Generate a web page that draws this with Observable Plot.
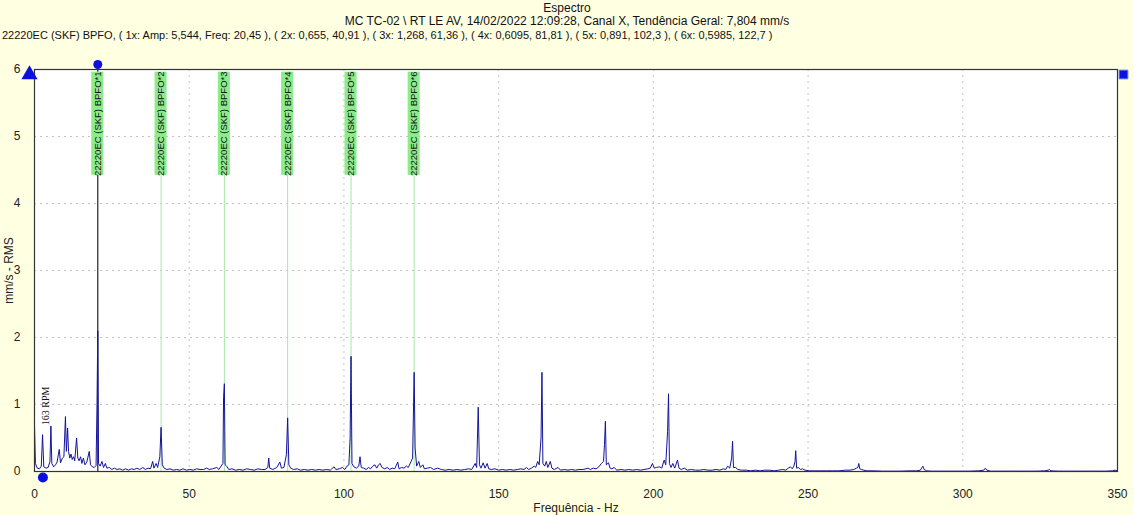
<!DOCTYPE html>
<html><head><meta charset="utf-8">
<script src="https://cdn.jsdelivr.net/npm/d3@7"></script>
<script src="https://cdn.jsdelivr.net/npm/@observablehq/plot@0.6"></script>
<style>
body{margin:0;background:#ffffe1;}
#wrap{position:relative;width:1134px;height:515px;background:#ffffe1;font-family:"Liberation Sans",Arial,sans-serif;color:#111;overflow:hidden}
.t{position:absolute;font-size:12px;line-height:14px;white-space:nowrap}
#chart{position:absolute;left:0;top:45px}
</style></head><body>
<div id="wrap">
<div class="t" style="left:0;width:1134px;text-align:center;top:1px">Espectro</div>
<div class="t" style="left:0;width:1134px;text-align:center;top:14px">MC TC-02 \ RT LE AV, 14/02/2022 12:09:28, Canal X, Tendência Geral: 7,804 mm/s</div>
<div class="t" style="left:2px;top:28px;font-size:11px">22220EC (SKF) BPFO, ( 1x: Amp: 5,544, Freq: 20,45 ), ( 2x: 0,655, 40,91 ), ( 3x: 1,268, 61,36 ), ( 4x: 0,6095, 81,81 ), ( 5x: 0,891, 102,3 ), ( 6x: 0,5985, 122,7 )</div>
<div id="chart"></div>
</div>
<script>
const xTicks = [0, 50, 100, 150, 200, 250, 300, 350];
const yTicks = [0, 1, 2, 3, 4, 5, 6];
const harmonicHz = [20.45, 40.91, 61.36, 81.81, 102.3, 122.7];
const harmonicLabels = ["22220EC (SKF) BPFO*1","22220EC (SKF) BPFO*2","22220EC (SKF) BPFO*3","22220EC (SKF) BPFO*4","22220EC (SKF) BPFO*5","22220EC (SKF) BPFO*6"];
const rpmHz = 2.72;
const rpmLabel = "163 RPM";
const spectrum = [
[0,0.68],[0.3,0.12],[0.9,0.05],[1.6,0.04],[2.2,0.08],[2.6,0.55],[3.0,0.07],[3.7,0.05],[4.4,0.06],[5.0,0.15],[5.3,0.68],[5.6,0.12],[6.2,0.07],[6.8,0.1],[7.3,0.14],[8.0,0.33],[8.4,0.13],[9.0,0.2],[9.5,0.22],[10.0,0.82],[10.3,0.3],[10.7,0.65],[11.0,0.3],[11.4,0.2],[11.8,0.26],[12.2,0.18],[12.6,0.22],[13.0,0.16],[13.6,0.5],[14.0,0.2],[14.4,0.16],[14.9,0.22],[15.3,0.12],[15.8,0.2],[16.3,0.1],[16.9,0.14],[17.7,0.3],[18.1,0.1],[18.7,0.07],[19.3,0.06],[19.9,0.09],[20.2,1.0],[20.45,2.1],[20.7,0.12],[21.2,0.08],[21.8,0.15],[22.3,0.06],[22.9,0.12],[23.4,0.05],[24.2,0.06],[25.0,0.03],[25.8,0.05],[26.7,0.03],[27.6,0.04],[28.5,0.02],[29.4,0.04],[30.4,0.02],[31.3,0.04],[32.2,0.03],[33.1,0.05],[34.0,0.03],[35.0,0.06],[35.8,0.03],[36.7,0.05],[37.5,0.04],[38.2,0.15],[38.6,0.05],[39.3,0.12],[39.8,0.06],[40.5,0.22],[40.91,0.66],[41.3,0.1],[41.9,0.05],[42.8,0.03],[43.8,0.04],[44.9,0.02],[45.9,0.03],[47.0,0.02],[48.0,0.04],[49.1,0.02],[50.2,0.03],[51.3,0.02],[52.4,0.04],[53.5,0.03],[54.6,0.03],[55.6,0.05],[56.5,0.03],[57.5,0.04],[58.9,0.06],[59.6,0.03],[60.3,0.08],[60.9,0.12],[61.1,1.1],[61.36,1.31],[61.6,0.1],[62.1,0.08],[62.8,0.03],[63.8,0.04],[65.0,0.02],[66.2,0.03],[67.4,0.02],[68.6,0.04],[69.8,0.03],[71.0,0.02],[72.2,0.04],[73.3,0.03],[74.5,0.03],[75.4,0.06],[75.7,0.2],[76.0,0.05],[77.0,0.03],[78.3,0.06],[79.3,0.14],[79.8,0.05],[80.6,0.06],[81.4,0.25],[81.81,0.8],[82.2,0.1],[82.8,0.05],[83.7,0.03],[84.9,0.04],[86.0,0.02],[87.2,0.03],[88.4,0.02],[89.6,0.03],[90.8,0.02],[92.0,0.03],[93.2,0.02],[94.4,0.03],[95.6,0.02],[96.8,0.07],[97.4,0.03],[98.5,0.04],[99.5,0.06],[100.3,0.03],[101.0,0.08],[101.6,0.1],[102.0,0.5],[102.3,1.72],[102.6,0.12],[103.2,0.07],[104.0,0.05],[104.8,0.08],[105.2,0.22],[105.6,0.06],[106.4,0.05],[107.2,0.03],[108.0,0.06],[108.6,0.04],[109.3,0.08],[110.0,0.1],[110.6,0.05],[111.2,0.1],[111.7,0.12],[112.3,0.06],[113.2,0.04],[114.0,0.06],[114.8,0.03],[115.6,0.05],[116.4,0.04],[117.4,0.14],[117.8,0.04],[118.6,0.06],[119.4,0.05],[120.2,0.08],[120.8,0.06],[121.7,0.15],[122.2,0.2],[122.7,1.48],[123.0,0.35],[123.5,0.08],[124.2,0.15],[124.7,0.06],[125.5,0.1],[126.0,0.04],[127.0,0.05],[128.0,0.06],[129.0,0.03],[130.3,0.05],[131.5,0.03],[132.7,0.02],[134.0,0.03],[135.3,0.02],[136.5,0.03],[137.8,0.02],[139.0,0.03],[140.3,0.04],[141.3,0.03],[142.4,0.12],[142.9,0.06],[143.4,0.96],[143.8,0.1],[144.3,0.05],[145.0,0.13],[145.6,0.05],[146.3,0.12],[146.8,0.04],[147.6,0.03],[148.8,0.04],[150.0,0.02],[151.2,0.03],[152.4,0.02],[153.6,0.03],[154.8,0.02],[156.0,0.03],[157.2,0.04],[158.2,0.03],[159.0,0.06],[159.7,0.03],[160.6,0.05],[161.5,0.08],[162.0,0.06],[162.6,0.15],[163.1,0.1],[163.7,0.5],[164.0,1.48],[164.3,0.12],[164.9,0.08],[165.4,0.15],[165.9,0.06],[166.7,0.15],[167.2,0.05],[168.0,0.03],[169.2,0.06],[170.0,0.02],[171.2,0.03],[172.4,0.02],[173.6,0.03],[174.8,0.02],[176.0,0.03],[177.2,0.03],[178.2,0.04],[178.9,0.05],[179.6,0.03],[180.6,0.05],[181.5,0.04],[182.4,0.07],[183.2,0.12],[183.9,0.15],[184.2,0.4],[184.5,0.75],[184.8,0.1],[185.5,0.13],[186.0,0.05],[186.6,0.04],[187.3,0.06],[188.2,0.02],[189.5,0.03],[190.8,0.02],[192.0,0.03],[193.3,0.02],[194.6,0.03],[195.8,0.02],[197.0,0.03],[198.2,0.04],[199.0,0.05],[199.7,0.12],[200.3,0.05],[201.0,0.06],[202.0,0.07],[202.7,0.05],[203.5,0.17],[204.0,0.1],[204.6,0.6],[204.9,1.16],[205.2,0.12],[205.7,0.06],[206.3,0.12],[206.9,0.05],[207.8,0.17],[208.3,0.05],[209.0,0.03],[210.0,0.05],[211.0,0.02],[212.3,0.03],[213.6,0.02],[215.0,0.02],[216.3,0.03],[217.6,0.02],[219.0,0.02],[220.3,0.03],[221.5,0.02],[222.6,0.04],[223.4,0.03],[224.0,0.08],[224.7,0.05],[225.3,0.2],[225.6,0.45],[225.9,0.06],[226.6,0.06],[227.3,0.03],[228.5,0.02],[230.0,0.02],[231.5,0.01],[233.0,0.02],[234.5,0.01],[236.0,0.02],[237.5,0.02],[239.0,0.01],[240.5,0.02],[241.8,0.03],[242.8,0.02],[243.6,0.05],[244.3,0.07],[244.9,0.04],[245.4,0.08],[245.8,0.15],[246.0,0.31],[246.3,0.05],[246.9,0.06],[247.5,0.03],[248.2,0.04],[249.0,0.02],[250.5,0.01],[252.0,0.01],[254.0,0.01],[256.0,0.01],[258.0,0.01],[260.0,0.01],[262.0,0.02],[263.5,0.02],[264.8,0.03],[265.6,0.05],[266.1,0.06],[266.4,0.12],[266.7,0.04],[267.3,0.03],[268.0,0.02],[269.0,0.01],[271,0.01],[274,0.005],[277,0.005],[280,0.005],[283,0.01],[285,0.01],[286.3,0.02],[286.8,0.06],[287.1,0.08],[287.5,0.03],[288.3,0.01],[290,0.005],[294,0.005],[298,0.005],[302,0.005],[305,0.01],[306.8,0.02],[307.3,0.05],[307.8,0.02],[309,0.005],[313,0.005],[317,0.005],[321,0.005],[324,0.005],[326.5,0.01],[327.6,0.02],[328.0,0.03],[328.5,0.01],[331,0.005],[336,0.005],[341,0.005],[346,0.005],[348.5,0.01],[349.2,0.02],[350,0.01]
];

const spec = spectrum.map(([f, a]) => ({f, a}));
const harmonics = harmonicHz.map((f, i) => ({f, label: harmonicLabels[i], i}));
const boxBottom = 4.42, boxTop = 5.96, boxHalf = 1.95;

const chart = Plot.plot({
  width: 1134,
  height: 470,
  marginTop: 24,
  marginBottom: 44,
  marginLeft: 34,
  marginRight: 17,
  style: {background: "transparent", fontFamily: "'Liberation Sans', Arial, sans-serif", fontSize: "12px", color: "#222", overflow: "visible"},
  x: {domain: [0, 350]},
  y: {domain: [0, 6]},
  marks: [
    Plot.frame({fill: "white"}),
    Plot.gridX(xTicks.slice(1, -1), {stroke: "#c4c4c4", strokeOpacity: 1, strokeDasharray: "2,4"}),
    Plot.gridY(yTicks.slice(1, -1), {stroke: "#c4c4c4", strokeOpacity: 1, strokeDasharray: "2,4"}),
    Plot.ruleX(harmonics.filter(d => d.i > 0), {x: "f", y1: 0, y2: boxBottom, stroke: "#a6e8a6", strokeWidth: 1}),
    Plot.ruleX(harmonics.filter(d => d.i === 0), {x: "f", y1: 0, y2: 6.08, stroke: "#222", strokeWidth: 1.2, clip: false}),
    Plot.line(spec, {x: "f", y: "a", stroke: "#14149a", strokeWidth: 1}),
    Plot.rect(harmonics, {x1: d => d.f - boxHalf, x2: d => d.f + boxHalf, y1: boxBottom, y2: boxTop, fill: "#8cec8c"}),
    Plot.text(harmonics, {x: "f", y: (boxBottom + boxTop) / 2, text: "label", rotate: -90, textAnchor: "middle", fontSize: 9.5, fill: "#111", fontFamily: "'Liberation Sans', Arial, sans-serif"}),
    Plot.text([rpmLabel], {x: rpmHz + 0.95, y: 0.69, text: d => d, rotate: -90, textAnchor: "start", fontSize: 10, fill: "#111", fontFamily: "'Liberation Serif', 'Times New Roman', serif"}),
    Plot.frame({stroke: "#333", strokeWidth: 1.2}),
    Plot.axisY(yTicks, {tickSize: 0, tickPadding: 14, tickFormat: d3.format("d"), label: "mm/s - RMS", labelAnchor: "center", labelOffset: 30, labelArrow: "none", fontSize: 12}),
    Plot.axisX(xTicks, {tickSize: 0, tickPadding: 18, tickFormat: d3.format("d"), label: "Frequência - Hz", labelAnchor: "center", labelOffset: 40, labelArrow: "none", fontSize: 12}),
    Plot.dot([harmonicHz[0]], {x: d => d, y: 6, dy: -5, r: 4.5, fill: "#0a10e0", stroke: "none", clip: false}),
    Plot.dot([rpmHz], {x: d => d, y: 0, dy: 6, r: 5, fill: "#0a10e0", stroke: "none", clip: false}),
    Plot.dot([0], {x: d => d, y: 6, dx: -5, dy: 5, r: 6, symbol: "triangle", fill: "#0a10e0", stroke: "none", clip: false}),
    Plot.dot([350], {x: d => d, y: 6, dx: 6, dy: 5, r: 5, symbol: "square", fill: "#0a10e0", stroke: "#6b8cf0", strokeWidth: 1, clip: false})
  ]
});
document.getElementById("chart").appendChild(chart);
</script>
</body></html>
